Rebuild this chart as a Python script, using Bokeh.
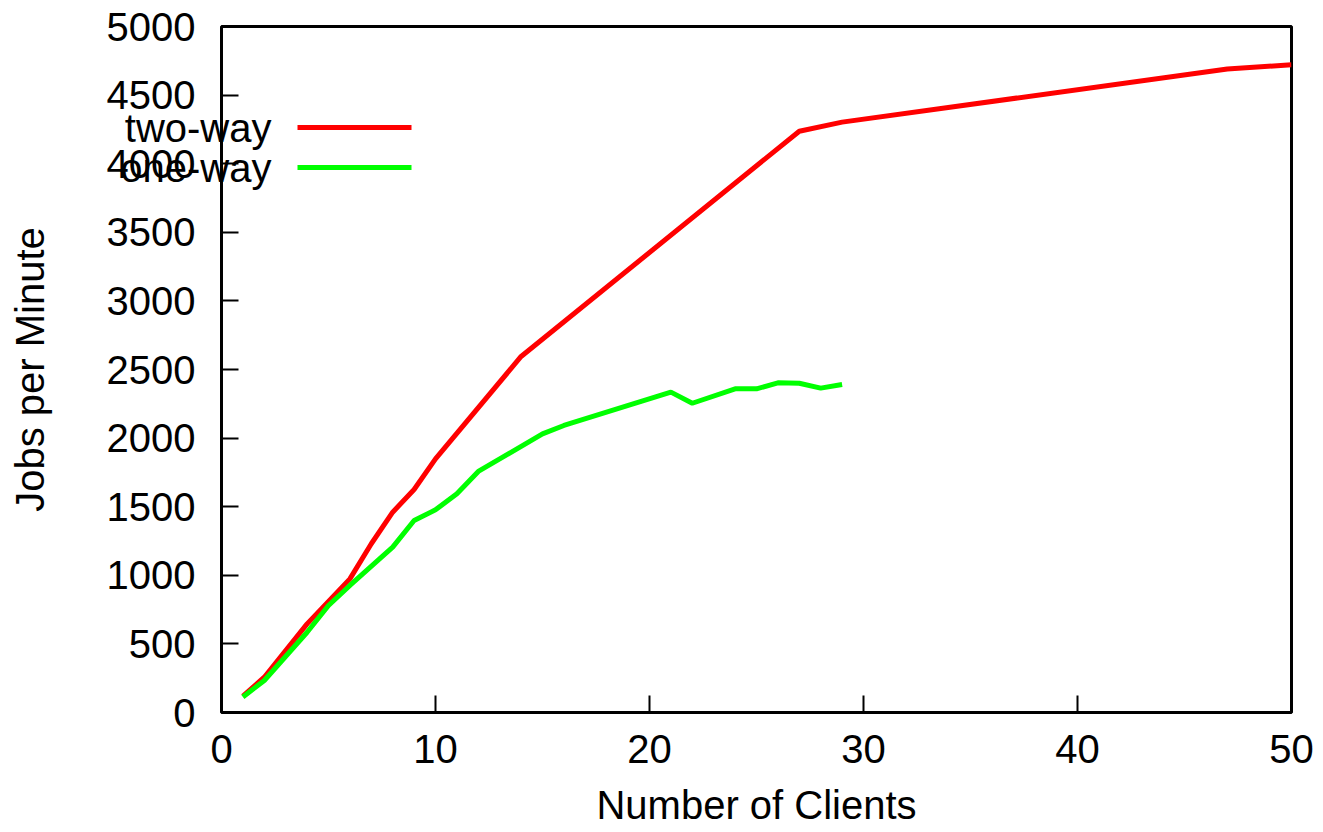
from bokeh.plotting import figure
from bokeh.models import Range1d, FixedTicker, Arrow, ColumnDataSource
from bokeh.core.properties import value
from bokeh.embed import file_html
from bokeh.resources import INLINE

# Throughput measurements (jobs per minute) against number of clients
two_way_clients = [1, 2, 4, 6, 7, 8, 9, 10, 14, 27, 29, 47, 50]
two_way_jobs = [120, 257, 646, 974, 1230, 1460, 1625, 1849, 2595, 4237, 4303, 4690, 4721]

one_way_clients = [1, 2, 4, 5, 6, 8, 9, 10, 11, 12, 15, 16, 21, 22, 24, 25, 26, 27, 28, 29]
one_way_jobs = [113, 233, 585, 780, 926, 1205, 1399, 1477, 1594, 1757, 2031, 2092,
                2335, 2254, 2359, 2359, 2403, 2400, 2364, 2391]

x_ticks = [0, 10, 20, 30, 40, 50]
y_ticks = [0, 500, 1000, 1500, 2000, 2500, 3000, 3500, 4000, 4500, 5000]

series_names = ["two-way", "one-way"]
RED = "#ff0000"
GREEN = "#00ff00"
series_colors = [RED, GREEN]

FONT = "Liberation Sans"
FS = "40px"

FRAME_H = 686    # plot area height in pixels

p = figure(width=1323, height=832, output_backend="svg", toolbar_location=None,
           x_range=Range1d(x_ticks[0], x_ticks[-1]), y_range=Range1d(y_ticks[0], y_ticks[-1]),
           min_border_left=221, min_border_right=32, min_border_top=26,
           min_border_bottom=120)

p.grid.visible = False
p.outline_line_color = "black"
p.outline_line_width = 3
p.background_fill_color = "white"
p.border_fill_color = "white"

for ax in (p.xaxis[0], p.yaxis[0]):
    ax.axis_line_color = None
    ax.major_tick_in = 17
    ax.major_tick_out = 0
    ax.major_tick_line_width = 2
    ax.major_tick_line_color = "black"
    ax.minor_tick_line_color = None
    ax.major_label_text_font = FONT
    ax.major_label_text_font_size = FS
    ax.major_label_text_color = "black"
    ax.axis_label_text_font = FONT
    ax.axis_label_text_font_size = FS
    ax.axis_label_text_font_style = "normal"
    ax.axis_label_text_color = "black"

p.xaxis.ticker = FixedTicker(ticks=x_ticks)
p.yaxis.ticker = FixedTicker(ticks=y_ticks)
p.xaxis.axis_label = "Number of Clients"
p.yaxis.axis_label = "Jobs per Minute"
p.xaxis.major_label_standoff = 22
p.xaxis.axis_label_standoff = 17
p.yaxis.major_label_standoff = 26
p.yaxis.axis_label_standoff = 52

p.line(two_way_clients, two_way_jobs, line_color=RED, line_width=5)
p.line(one_way_clients, one_way_jobs, line_color=GREEN, line_width=5)

# Key in the upper left, anchored to the top-left corner of the plot area:
# label text on the left (may run past the y axis), line sample on the right
row_offsets = [101, 141]
key_src = ColumnDataSource(dict(
    x=[p.x_range.start] * len(series_names),
    y=[p.y_range.end] * len(series_names),
    text=series_names,
    dy=row_offsets,
))
p.text(x="x", y="y", text="text", source=key_src, x_offset=50, y_offset="dy",
       text_font=value(FONT), text_font_size=FS, text_color="black",
       text_align="right", text_baseline="middle", level="overlay")

for color, dy in zip(series_colors, row_offsets):
    yy = FRAME_H - dy
    p.add_layout(Arrow(x_start=76, y_start=yy, x_end=190, y_end=yy,
                       start_units="screen", end_units="screen", end=None,
                       line_color=color, line_width=5))

open("out.html", "w").write(file_html(p, INLINE))
